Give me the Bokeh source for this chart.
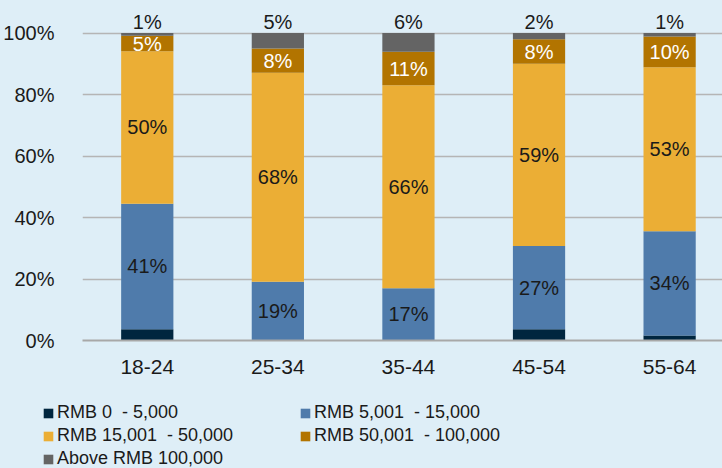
from bokeh.plotting import figure
from bokeh.layouts import column
from bokeh.models import (ColumnDataSource, Range1d, FixedTicker, PrintfTickFormatter,
                          Legend, LegendItem)
from bokeh.core.properties import value
from bokeh.embed import file_html
from bokeh.resources import INLINE

# ---- data ----
categories = ["18-24", "25-34", "35-44", "45-54", "55-64"]
series_names = ["RMB 0 \u00a0- 5,000", "RMB 5,001 \u00a0- 15,000", "RMB 15,001 \u00a0- 50,000",
                "RMB 50,001 \u00a0- 100,000", "Above RMB 100,000"]
rmb_0_5k = [3.7, 0.0, 0.0, 3.7, 1.6]
rmb_5k_15k = [40.8, 19.1, 17.0, 27.0, 33.9]
rmb_15k_50k = [49.6, 68.0, 66.0, 59.3, 53.4]
rmb_50k_100k = [5.0, 7.9, 10.9, 8.0, 10.0]
rmb_above_100k = [0.9, 5.0, 6.1, 2.0, 1.1]
y_ticks = [0, 20, 40, 60, 80, 100]

colors = ["#00263F", "#4F7BAB", "#EBAE35", "#B27400", "#646464"]
BG = "#DEEEF7"
FONT = "Liberation Sans"
TXT = "#1A1A1A"

series = [rmb_0_5k, rmb_5k_15k, rmb_15k_50k, rmb_50k_100k, rmb_above_100k]
keys = ["s0", "s1", "s2", "s3", "s4"]
xs = list(range(len(categories)))
data = {"x": xs}
for k, s in zip(keys, series):
    data[k] = s
src = ColumnDataSource(data)

p = figure(width=722, height=388, output_backend="svg", toolbar_location=None,
           x_range=Range1d(-0.496, 4.405), y_range=Range1d(0, 109.3),
           min_border_left=80, min_border_right=0, min_border_top=4, min_border_bottom=48)
p.frame_align = False
p.background_fill_color = BG
p.border_fill_color = BG
p.outline_line_color = None

renderers = p.vbar_stack(keys, x="x", width=0.4, source=src, color=colors, line_width=0)

# value labels, placed from the stacked values
lab_x, lab_y, lab_t, lab_c, lab_b = [], [], [], [], []
for i in xs:
    cum = 0.0
    for j, s in enumerate(series):
        v = s[i]
        lo, hi = cum, cum + v
        cum = hi
        if j == 0:
            continue
        lab_x.append(i)
        lab_t.append(f"{round(v):.0f}%")
        if j == 4:
            lab_y.append(hi)
            lab_c.append(TXT)
            lab_b.append("bottom")
        else:
            lab_y.append((lo + hi) / 2)
            lab_c.append("#FFFFFF" if j == 3 else TXT)
            lab_b.append("middle")

lsrc = ColumnDataSource(dict(x=lab_x, y=lab_y, t=lab_t, c=lab_c, b=lab_b))
p.text(x="x", y="y", text="t", source=lsrc, text_color="c", text_align="center",
       text_baseline="b", text_font=value(FONT), text_font_size="20px")

# axes / grid
p.xgrid.grid_line_color = None
p.ygrid.grid_line_color = "#B5B5B5"
p.ygrid.grid_line_width = 1.5
p.ygrid.ticker = FixedTicker(ticks=y_ticks)

p.yaxis.ticker = FixedTicker(ticks=y_ticks)
p.yaxis.formatter = PrintfTickFormatter(format="%d%%")
p.yaxis.axis_line_color = None
p.yaxis.major_tick_line_color = None
p.yaxis.minor_tick_line_color = None
p.yaxis.major_label_standoff = 22
p.yaxis.major_label_text_font = FONT
p.yaxis.major_label_text_font_size = "20px"
p.yaxis.major_label_text_color = TXT

p.xaxis.ticker = FixedTicker(ticks=xs)
p.xaxis.major_label_overrides = {i: c for i, c in enumerate(categories)}
p.xaxis.axis_line_color = "#A8A8A8"
p.xaxis.axis_line_width = 2
p.xaxis.major_tick_line_color = None
p.xaxis.minor_tick_line_color = None
p.xaxis.major_label_standoff = 13
p.xaxis.major_label_text_font = FONT
p.xaxis.major_label_text_font_size = "21px"
p.xaxis.major_label_text_color = TXT

# legend panel (separate small figure under the chart)
pl = figure(width=722, height=80, output_backend="svg", toolbar_location=None,
            x_axis_type=None, y_axis_type=None, min_border=0,
            x_range=Range1d(0, 1), y_range=Range1d(0, 1))
pl.frame_align = False
pl.background_fill_color = BG
pl.border_fill_color = BG
pl.outline_line_color = None
# zero-height swatch renderers: they only feed the legend
leg_renderers = [pl.vbar(x=[0.5], top=[0], width=0.1, color=c, line_width=0) for c in colors]

legend = Legend(items=[LegendItem(label=n, renderers=[r]) for n, r in zip(series_names, leg_renderers)],
                location=(42, -2), orientation="horizontal", ncols=2,
                glyph_width=12, glyph_height=12, label_standoff=3, label_width=242,
                label_height=23, spacing=0, padding=0, margin=0,
                background_fill_alpha=0, border_line_alpha=0,
                label_text_font=FONT, label_text_font_size="18px", label_text_color=TXT)
pl.add_layout(legend)

layout = column(p, pl, spacing=0)
html = file_html(layout, INLINE)
html = html.replace("<html", '<html style="background-color:%s;"' % BG, 1)
html = html.replace("<body>", '<body style="background-color:%s;">' % BG, 1)
open("out.html", "w").write(html)
